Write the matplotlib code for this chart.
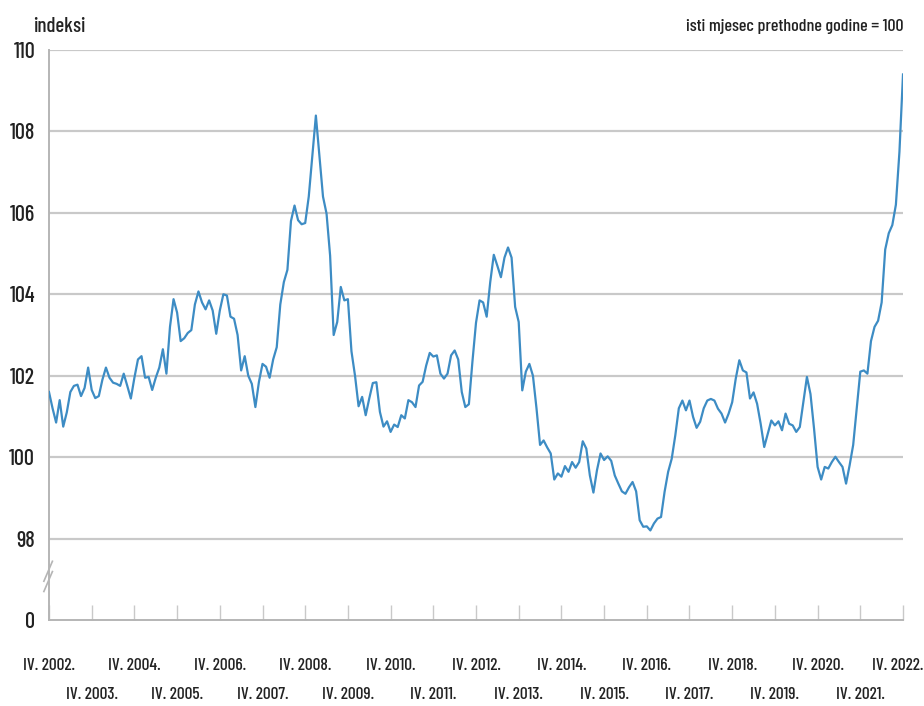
import numpy as np
import matplotlib.pyplot as plt
from matplotlib.lines import Line2D
from matplotlib.transforms import ScaledTranslation

plt.rcParams['font.family'] = ['Barlow Condensed', 'Archivo Narrow', 'DejaVu Sans']
plt.rcParams['font.weight'] = 'medium'

# Monthly index, same month of previous year = 100, IV. 2002. - IV. 2022.
index_values = [
    101.6, 101.2, 100.85, 101.4, 100.75, 101.1, 101.6, 101.75, 101.78, 101.5, 101.7, 102.2,
    101.65, 101.45, 101.5, 101.9, 102.2, 101.95, 101.83, 101.8, 101.75, 102.05, 101.75, 101.44,
    101.95, 102.4, 102.48, 101.95, 101.97, 101.65, 101.95, 102.2, 102.65, 102.05, 103.2, 103.88,
    103.55, 102.85, 102.92, 103.05, 103.12, 103.75, 104.07, 103.8, 103.63, 103.85, 103.6, 103.03,
    103.6, 104.0, 103.97, 103.45, 103.4, 103.0, 102.13, 102.48, 102.0, 101.8, 101.23, 101.85,
    102.29, 102.22, 101.95, 102.4, 102.7, 103.75, 104.3, 104.6, 105.8, 106.18, 105.82, 105.72,
    105.75, 106.4, 107.4, 108.39, 107.4, 106.4, 105.98, 104.95, 103.0, 103.32, 104.18, 103.85,
    103.88, 102.6, 102.0, 101.25, 101.48, 101.03, 101.44, 101.82, 101.84, 101.11, 100.75, 100.88,
    100.62, 100.8, 100.74, 101.03, 100.95, 101.4, 101.35, 101.23, 101.76, 101.85, 102.25, 102.56,
    102.47, 102.5, 102.05, 101.93, 102.05, 102.5, 102.62, 102.4, 101.6, 101.23, 101.3, 102.35,
    103.3, 103.85, 103.8, 103.45, 104.3, 104.97, 104.7, 104.42, 104.9, 105.15, 104.9, 103.69,
    103.32, 101.64, 102.1, 102.29, 102.0, 101.2, 100.3, 100.41, 100.24, 100.09, 99.45, 99.6,
    99.52, 99.78, 99.64, 99.88, 99.74, 99.88, 100.39, 100.21, 99.55, 99.13, 99.68, 100.09,
    99.93, 100.02, 99.91, 99.55, 99.35, 99.16, 99.1, 99.26, 99.39, 99.16, 98.45, 98.29,
    98.3, 98.2, 98.37, 98.49, 98.53, 99.15, 99.64, 99.96, 100.53, 101.2, 101.39, 101.15,
    101.39, 100.99, 100.72, 100.87, 101.2, 101.39, 101.43, 101.39, 101.19, 101.07, 100.85, 101.07,
    101.35, 101.93, 102.38, 102.13, 102.08, 101.44, 101.59, 101.31, 100.82, 100.25, 100.57, 100.9,
    100.78, 100.88, 100.66, 101.07, 100.82, 100.78, 100.62, 100.74, 101.35, 101.97, 101.55, 100.7,
    99.76, 99.45, 99.76, 99.72, 99.88, 100.01, 99.88, 99.76, 99.35, 99.8, 100.3, 101.2,
    102.1, 102.13, 102.05, 102.85, 103.2, 103.35, 103.8, 105.1, 105.5, 105.7, 106.2, 107.5,
    109.4,
]
years = list(range(2002, 2023))
year_labels = ['IV. %d.' % y for y in years]
y_ticks = [96, 98, 100, 102, 104, 106, 108, 110]
y_tick_labels = ['0', '98', '100', '102', '104', '106', '108', '110']

months = np.arange(len(index_values))

fig = plt.figure(figsize=(9.24, 7.06), dpi=100)
ax = fig.add_axes([49 / 924, 1 - 620 / 706, (903 - 49) / 924, (620 - 50) / 706])

# gridlines (no line at the broken "0" level)
for v in y_ticks[1:]:
    ax.axhline(v, color='#c9c9c9', lw=1.6, zorder=1)

ax.plot(months, index_values, color='#3d8cc4', lw=1.6, zorder=3)

ax.set_xlim(0, 240)
ax.set_ylim(96, 110)
ax.set_yticks(y_ticks)
ax.set_yticklabels(y_tick_labels)
ax.tick_params(axis='y', length=0, pad=10, labelsize=16, labelcolor='#222222')

# even years on top row, odd years on lower row
ax.set_xticks([12 * i for i in range(0, 21, 2)])
ax.set_xticklabels(year_labels[0::2])
ax.set_xticks([12 * i for i in range(1, 21, 2)], minor=True)
ax.set_xticklabels(year_labels[1::2], minor=True)
ax.tick_params(axis='x', which='both', direction='in', length=11, width=1,
               color='#c9c9c9', labelsize=12.5, labelcolor='#222222')
ax.tick_params(axis='x', which='major', pad=27)
ax.tick_params(axis='x', which='minor', pad=48)

# keep the last label inside the figure
last = ax.get_xticklabels()[-1]
last.set_transform(last.get_transform() + ScaledTranslation(-4 / 72, 0, fig.dpi_scale_trans))

for s in ['top', 'right']:
    ax.spines[s].set_visible(False)
ax.spines['left'].set_color('#b5b5b5')
ax.spines['bottom'].set_color('#b5b5b5')
ax.spines['left'].set_linewidth(1.4)
ax.spines['bottom'].set_linewidth(1.4)

# axis break mark
for dy in (0, 0.018):
    ax.add_line(Line2D([-0.006, 0.004], [0.05 + dy, 0.085 + dy], transform=ax.transAxes,
                       color='#b5b5b5', lw=1.2, clip_on=False))

fig.text(33 / 924, 1 - 26 / 706, 'indeksi', fontsize=15, va='center', ha='left', color='#222222')
fig.text(903 / 924, 1 - 26 / 706, 'isti mjesec prethodne godine = 100', fontsize=13,
         va='center', ha='right', color='#222222')

fig.savefig('out.png', dpi=100)
